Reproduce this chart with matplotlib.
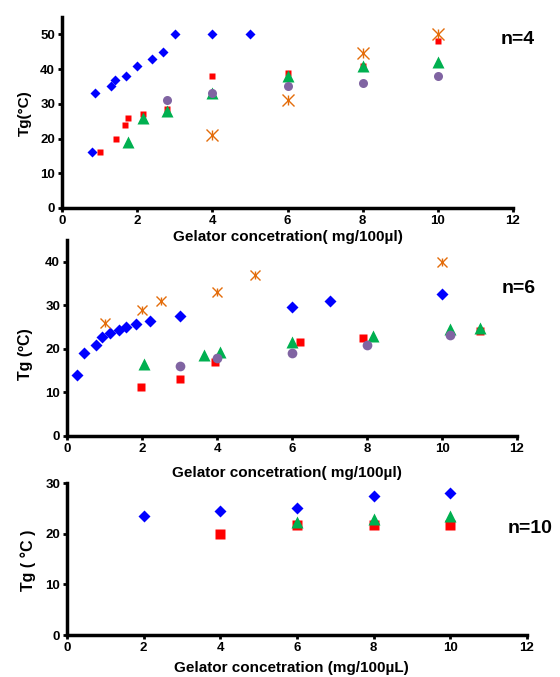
import numpy as np
import matplotlib
matplotlib.use('Agg')
import matplotlib.pyplot as plt

plt.rcParams['font.family'] = ['Liberation Sans', 'DejaVu Sans']
plt.rcParams['font.weight'] = 'bold'

# colours
c_blue = '#0000FF'
c_red = '#FF0000'
c_green = '#00B050'
c_purple = '#8064A2'
c_orange = '#E46C0A'

# n=4 data
n4_blue_x = [0.8, 0.87, 1.3, 1.42, 1.7, 2.0, 2.4, 2.7, 3.0, 4.0, 5.0]
n4_blue_y = [16, 33, 35, 37, 38, 41, 43, 45, 50, 50, 50]
n4_red_x = [1.0, 1.45, 1.68, 1.75, 2.15, 2.8, 4.0, 6.0, 8.0, 10.0]
n4_red_y = [16, 20, 24, 26, 27, 28.5, 38, 39, 41, 48]
n4_green_x = [1.75, 2.15, 2.8, 4.0, 6.0, 8.0, 10.0]
n4_green_y = [19, 26, 28, 33, 38, 41, 42]
n4_purple_x = [2.8, 4.0, 6.0, 8.0, 10.0]
n4_purple_y = [31, 33, 35, 36, 38]
n4_orange_x = [4.0, 6.0, 8.0, 10.0]
n4_orange_y = [21, 31, 44.5, 50]

# n=6 data
n6_blue_x = [0.27, 0.46, 0.77, 0.93, 1.15, 1.38, 1.58, 1.84, 2.22, 3.0, 6.0, 7.0, 10.0]
n6_blue_y = [14, 19, 21, 22.8, 23.7, 24.3, 25, 25.7, 26.3, 27.5, 29.6, 31, 32.5]
n6_red_x = [1.97, 3.0, 3.95, 6.2, 7.88, 11.0]
n6_red_y = [11.2, 13, 17, 21.6, 22.5, 24]
n6_green_x = [2.05, 3.65, 4.08, 6.0, 8.17, 10.2, 11.0]
n6_green_y = [16.5, 18.5, 19.4, 21.5, 22.9, 24.5, 24.9]
n6_purple_x = [3.0, 4.0, 6.0, 8.0, 10.2]
n6_purple_y = [16, 18, 19, 21, 23.2]
n6_orange_x = [1.0, 2.0, 2.5, 4.0, 5.0, 10.0]
n6_orange_y = [26, 29, 31, 33, 37, 40]

# n=10 data
n10_blue_x = [2, 4, 6, 8, 10]
n10_blue_y = [23.4, 24.5, 25, 27.5, 28]
n10_red_x = [4, 6, 8, 10]
n10_red_y = [20, 21.8, 21.8, 21.8]
n10_green_x = [6, 8, 10]
n10_green_y = [22.3, 22.9, 23.4]

x_ticks = [0, 2, 4, 6, 8, 10, 12]

fig = plt.figure(figsize=(5.6, 6.77), dpi=100)

# axes positions from the picture (pixels)
def add_ax(l, r, b, t):
    ax = fig.add_axes([l / 560, (677 - b) / 677, (r - l) / 560, (b - t) / 677])
    ax.set_facecolor('none')
    return ax

ax1 = add_ax(62, 513, 208, 17)
ax2 = add_ax(67, 517, 436, 240)
ax3 = add_ax(67, 527, 635, 483)

def style(ax, ymax, yticks):
    ax.set_xlim(0, 12)
    ax.set_ylim(0, ymax)
    ax.set_xticks(x_ticks)
    ax.set_yticks(yticks)
    for s in ['top', 'right']:
        ax.spines[s].set_visible(False)
    for s in ['left', 'bottom']:
        ax.spines[s].set_linewidth(2.5)
    ax.tick_params(direction='out', length=3, width=2, labelsize=9.5, pad=2)
    for lab in ax.get_xticklabels() + ax.get_yticklabels():
        lab.set_fontweight('bold')

def asterisk(ax, x, y, ms):
    # excel style star: an x with a vertical bar through it
    ax.plot(x, y, 'x', color=c_orange, ms=ms, mew=1, clip_on=False)
    ax.plot(x, y, '|', color=c_orange, ms=ms * 0.8, mew=1, clip_on=False)

# panel n=4
ax1.plot(n4_blue_x, n4_blue_y, 'D', color=c_blue, ms=5.5, mec='none', clip_on=False)
ax1.plot(n4_red_x, n4_red_y, 's', color=c_red, ms=5, mec='none', clip_on=False)
ax1.plot(n4_green_x, n4_green_y, '^', color=c_green, ms=8, mec='none', clip_on=False)
ax1.plot(n4_purple_x, n4_purple_y, 'o', color=c_purple, ms=6.5, mec='none', clip_on=False)
asterisk(ax1, n4_orange_x, n4_orange_y, 9)
style(ax1, 55, [0, 10, 20, 30, 40, 50])
ax1.text(0.5, -0.152, 'Gelator concetration( mg/100µl)', transform=ax1.transAxes,
         ha='center', va='center', fontsize=11, fontweight='bold')
ax1.text(-0.082, 0.497, 'Tg(°C)', transform=ax1.transAxes, rotation=90,
         ha='center', va='center', fontsize=11, fontweight='bold')
ax1.text(1.011, 0.88, 'n=4', transform=ax1.transAxes, ha='center', va='center',
         fontsize=14, fontweight='bold')

# panel n=6
ax2.plot(n6_blue_x, n6_blue_y, 'D', color=c_blue, ms=6, mec='none', clip_on=False)
ax2.plot(n6_red_x, n6_red_y, 's', color=c_red, ms=6, mec='none', clip_on=False)
ax2.plot(n6_green_x, n6_green_y, '^', color=c_green, ms=9, mec='none', clip_on=False)
ax2.plot(n6_purple_x, n6_purple_y, 'o', color=c_purple, ms=7, mec='none', clip_on=False)
asterisk(ax2, n6_orange_x, n6_orange_y, 7.5)
style(ax2, 45, [0, 10, 20, 30, 40])
ax2.text(0.489, -0.19, 'Gelator concetration( mg/100µl)', transform=ax2.transAxes,
         ha='center', va='center', fontsize=11, fontweight='bold')
ax2.text(-0.093, 0.42, 'Tg (ºC)', transform=ax2.transAxes, rotation=90,
         ha='center', va='center', fontsize=11.5, fontweight='bold')
ax2.text(1.003, 0.755, 'n=6', transform=ax2.transAxes, ha='center', va='center',
         fontsize=14, fontweight='bold')

# panel n=10
ax3.plot(n10_blue_x, n10_blue_y, 'D', color=c_blue, ms=6.5, mec='none', clip_on=False)
ax3.plot(n10_red_x, n10_red_y, 's', color=c_red, ms=7.5, mec='none', clip_on=False)
ax3.plot(n10_green_x, n10_green_y, '^', color=c_green, ms=9, mec='none', clip_on=False)
style(ax3, 30, [0, 10, 20, 30])
ax3.text(0.487, -0.218, 'Gelator concetration (mg/100µL)', transform=ax3.transAxes,
         ha='center', va='center', fontsize=11, fontweight='bold')
ax3.text(-0.085, 0.49, 'Tg ( °C )', transform=ax3.transAxes, rotation=90,
         ha='center', va='center', fontsize=11.5, fontweight='bold')
ax3.text(0.957, 0.70, 'n=10', transform=ax3.transAxes, ha='left', va='center',
         fontsize=14, fontweight='bold')

fig.savefig('out.png', dpi=100)
